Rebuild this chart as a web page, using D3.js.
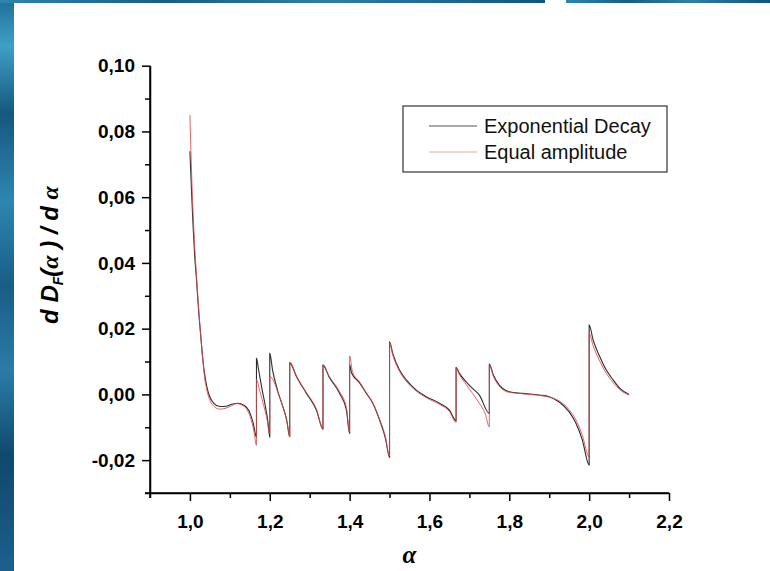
<!DOCTYPE html>
<html>
<head>
<meta charset="utf-8">
<script src="https://cdn.jsdelivr.net/npm/d3@7"></script>
<style>
  body { margin: 0; background: #ffffff; }
  svg { display: block; }
</style>
</head>
<body>
<div id="svgBody"></div>
<script>
// curve values: [alpha, dD/dalpha]
var expDecay = [
  [1.000, 0.0740], [1.004, 0.0620], [1.008, 0.0510], [1.012, 0.0420], [1.017, 0.0340],
  [1.022, 0.0250], [1.027, 0.0180], [1.032, 0.0110], [1.037, 0.0060], [1.043, 0.0020],
  [1.050, -0.0008], [1.060, -0.0027], [1.075, -0.0037], [1.090, -0.0036], [1.105, -0.0030],
  [1.120, -0.0027], [1.135, -0.0033], [1.148, -0.0050], [1.158, -0.0085], [1.1667, -0.0130],
  [1.1667, 0.0110], [1.172, 0.0075], [1.180, 0.0020], [1.188, -0.0030], [1.195, -0.0080], [1.200, -0.0130],
  [1.200, 0.0125], [1.207, 0.0074], [1.220, 0.0010], [1.232, -0.0035], [1.242, -0.0075], [1.250, -0.0128],
  [1.250, 0.0096], [1.267, 0.0054], [1.292, 0.0003], [1.317, -0.0048], [1.3333, -0.0106],
  [1.3333, 0.0089], [1.349, 0.0052], [1.375, 0.0003], [1.392, -0.0048], [1.400, -0.0119],
  [1.400, 0.0090], [1.405, 0.0065], [1.425, 0.0035], [1.442, 0.0003], [1.458, -0.0027],
  [1.475, -0.0078], [1.490, -0.0135], [1.500, -0.0192],
  [1.500, 0.0160], [1.508, 0.0125], [1.525, 0.0074], [1.542, 0.0044], [1.567, 0.0013],
  [1.592, -0.0007], [1.625, -0.0027], [1.650, -0.0048], [1.6667, -0.0080],
  [1.6667, 0.0082], [1.675, 0.0064], [1.692, 0.0038], [1.708, 0.0018], [1.725, -0.0002], [1.750, -0.0058],
  [1.750, 0.0092], [1.760, 0.0059], [1.775, 0.0028], [1.800, 0.0008], [1.833, 0.0003],
  [1.875, -0.0002], [1.900, -0.0007], [1.925, -0.0023], [1.950, -0.0053], [1.967, -0.0088],
  [1.983, -0.0139], [2.000, -0.0215],
  [2.000, 0.0211], [2.010, 0.0165], [2.027, 0.0114], [2.043, 0.0074], [2.060, 0.0044],
  [2.077, 0.0018], [2.100, 0.0000]
];

var equalAmp = [
  [1.000, 0.0850], [1.004, 0.0680], [1.008, 0.0550], [1.012, 0.0450], [1.017, 0.0350],
  [1.022, 0.0260], [1.027, 0.0180], [1.032, 0.0110], [1.037, 0.0050], [1.043, 0.0010],
  [1.050, -0.0018], [1.060, -0.0036], [1.075, -0.0045], [1.090, -0.0042], [1.105, -0.0034],
  [1.117, -0.0028], [1.130, -0.0032], [1.142, -0.0045], [1.152, -0.0072], [1.160, -0.0110], [1.1667, -0.0155],
  [1.1667, 0.0045], [1.175, 0.0010], [1.185, -0.0035], [1.193, -0.0075], [1.200, -0.0120],
  [1.200, 0.0055], [1.210, 0.0040], [1.222, 0.0000], [1.235, -0.0045], [1.244, -0.0090], [1.250, -0.0130],
  [1.250, 0.0098], [1.267, 0.0056], [1.292, 0.0005], [1.317, -0.0045], [1.3333, -0.0104],
  [1.3333, 0.0090], [1.349, 0.0055], [1.375, 0.0008], [1.392, -0.0040], [1.400, -0.0115],
  [1.400, 0.0117], [1.407, 0.0070], [1.425, 0.0038], [1.442, 0.0005], [1.458, -0.0025],
  [1.475, -0.0075], [1.490, -0.0130], [1.500, -0.0188],
  [1.500, 0.0158], [1.508, 0.0120], [1.525, 0.0070], [1.542, 0.0040], [1.567, 0.0010],
  [1.592, -0.0010], [1.625, -0.0030], [1.650, -0.0052], [1.6667, -0.0085],
  [1.6667, 0.0080], [1.675, 0.0060], [1.692, 0.0030], [1.708, 0.0003], [1.725, -0.0027],
  [1.740, -0.0060], [1.750, -0.0099],
  [1.750, 0.0090], [1.760, 0.0055], [1.775, 0.0025], [1.800, 0.0006], [1.833, 0.0002],
  [1.875, -0.0003], [1.900, -0.0008], [1.925, -0.0020], [1.950, -0.0047], [1.967, -0.0078],
  [1.983, -0.0125], [2.000, -0.0190],
  [2.000, 0.0185], [2.010, 0.0148], [2.027, 0.0100], [2.043, 0.0064], [2.060, 0.0036],
  [2.077, 0.0014], [2.100, -0.0002]
];

var seriesNames = ["Exponential Decay", "Equal amplitude"];
var xTicks = [1.0, 1.2, 1.4, 1.6, 1.8, 2.0, 2.2];
var xMinor = [0.9, 1.1, 1.3, 1.5, 1.7, 1.9, 2.1];
var yTicks = [-0.02, 0.00, 0.02, 0.04, 0.06, 0.08, 0.10];
var yMinor = [-0.03, -0.01, 0.01, 0.03, 0.05, 0.07, 0.09];

var W = 770, H = 571;
var mLeft = 150, mRight = 669, mTop = 65.7, mBottom = 493;
var black = "#2b2b2b", red = "#dd4a4a";
// comma decimals and a plain hyphen for the minus, like the original
var comma = function(f) {
  return function(d) { return f(d).replace(".", ",").replace("\u2212", "-"); };
};

var svg = d3.select("#svgBody").append("svg")
    .attr("width", W)
    .attr("height", H);

// blue photo frame on the left and top edges
var defs = svg.append("defs");
var gl = defs.append("linearGradient").attr("id", "frameL")
    .attr("x1", 0).attr("y1", 0).attr("x2", 0).attr("y2", 1);
[["0", "#1f6f9a"], ["0.08", "#3f9fc4"], ["0.2", "#15577f"], ["0.35", "#2c87b0"],
 ["0.5", "#195d86"], ["0.65", "#2a7ca6"], ["0.8", "#10486e"], ["1", "#1d5f8c"]]
  .forEach(function(s) { gl.append("stop").attr("offset", s[0]).attr("stop-color", s[1]); });
var gt = defs.append("linearGradient").attr("id", "frameT");
[["0", "#2d86b0"], ["0.3", "#175f87"], ["0.6", "#2e7fa6"], ["1", "#0f5585"]]
  .forEach(function(s) { gt.append("stop").attr("offset", s[0]).attr("stop-color", s[1]); });
svg.append("rect").attr("x", 0).attr("y", 0).attr("width", 14).attr("height", H).attr("fill", "url(#frameL)");
svg.append("rect").attr("x", 0).attr("y", 0).attr("width", 545).attr("height", 3).attr("fill", "url(#frameT)");
svg.append("rect").attr("x", 566).attr("y", 0).attr("width", W - 566).attr("height", 3).attr("fill", "url(#frameT)");

var x = d3.scaleLinear().domain([0.9, 2.2]).range([mLeft, mRight]);
var y = d3.scaleLinear().domain([-0.03, 0.10]).range([mBottom, mTop]);

var tickFont = function(g) {
  g.attr("font-family", "'Liberation Sans', Arial, sans-serif")
   .attr("font-size", 19)
   .attr("font-weight", "bold");
  g.selectAll("text").attr("fill", "#000");
  g.selectAll("line").attr("stroke", "#000").attr("stroke-width", 1.5);
  g.select(".domain").attr("stroke", "#000").attr("stroke-width", 1.5);
};

// minor ticks
svg.append("g")
    .attr("transform", "translate(0," + mBottom + ")")
    .call(d3.axisBottom(x).tickValues(xMinor).tickSize(5).tickSizeOuter(0).tickFormat(""))
    .call(tickFont);
svg.append("g")
    .attr("transform", "translate(" + mLeft + ",0)")
    .call(d3.axisLeft(y).tickValues(yMinor).tickSize(5).tickSizeOuter(0).tickFormat(""))
    .call(tickFont);

// major ticks
var xAxis = svg.append("g")
    .attr("transform", "translate(0," + mBottom + ")")
    .call(d3.axisBottom(x).tickValues(xTicks).tickSize(8).tickSizeOuter(0)
      .tickPadding(14).tickFormat(comma(d3.format(".1f"))))
    .call(tickFont);
xAxis.selectAll(".domain").remove();

var yAxis = svg.append("g")
    .attr("transform", "translate(" + mLeft + ",0)")
    .call(d3.axisLeft(y).tickValues(yTicks).tickSize(8).tickSizeOuter(0)
      .tickPadding(7).tickFormat(comma(d3.format(".2f"))))
    .call(tickFont);
yAxis.selectAll(".domain").remove();

// axis lines, x line reaches the minor tick at 0.9 left of the y axis
svg.append("line").attr("x1", mLeft - 5).attr("x2", mRight)
    .attr("y1", mBottom).attr("y2", mBottom).attr("stroke", "#000").attr("stroke-width", 1.5);
svg.append("line").attr("x1", mLeft).attr("x2", mLeft)
    .attr("y1", mTop).attr("y2", mBottom + 5).attr("stroke", "#000").attr("stroke-width", 1.5);

// curves
var line = d3.line()
    .x(function(d) { return x(d[0]); })
    .y(function(d) { return y(d[1]); })
    .curve(d3.curveMonotoneX);

svg.append("path").datum(expDecay)
    .attr("d", line).attr("fill", "none")
    .attr("stroke", black).attr("stroke-width", 1.1);
svg.append("path").datum(equalAmp)
    .attr("d", line).attr("fill", "none")
    .attr("stroke", red).attr("stroke-width", 1).attr("stroke-opacity", 0.85);

// legend
var lg = svg.append("g");
lg.append("rect").attr("x", 403).attr("y", 106).attr("width", 264).attr("height", 66)
    .attr("fill", "#fff").attr("stroke", "#333").attr("stroke-width", 1.2);
[["#555", 126], ["#eaa3a3", 152]].forEach(function(s, i) {
  lg.append("line").attr("x1", 429).attr("x2", 477).attr("y1", s[1]).attr("y2", s[1])
      .attr("stroke", s[0]).attr("stroke-width", 1);
  lg.append("text").attr("x", 484).attr("y", s[1] + 7)
      .attr("font-family", "'Liberation Sans', Arial, sans-serif")
      .attr("font-size", "20px").attr("fill", "#111")
      .text(seriesNames[i]);
});

// axis titles
svg.append("text")
    .attr("x", (mLeft + mRight) / 2).attr("y", 563)
    .attr("text-anchor", "middle")
    .attr("font-family", "'Liberation Serif', 'DejaVu Serif', serif")
    .attr("font-style", "italic").attr("font-weight", "bold")
    .attr("font-size", "25px")
    .text("α");

var yt = svg.append("text")
    .attr("transform", "translate(58,255) rotate(-90)")
    .attr("text-anchor", "middle")
    .attr("font-family", "'Liberation Sans', Arial, sans-serif")
    .attr("font-style", "italic").attr("font-weight", "bold")
    .attr("font-size", "24px");
yt.append("tspan").text("d D");
yt.append("tspan").attr("font-size", "14px").attr("dy", 5).text("F");
yt.append("tspan").attr("dy", -5).text("(");
yt.append("tspan").attr("font-family", "'Liberation Serif', serif").text("α");
yt.append("tspan").text(" ) / d ");
yt.append("tspan").attr("font-family", "'Liberation Serif', serif").text("α");
</script>
</body>
</html>
